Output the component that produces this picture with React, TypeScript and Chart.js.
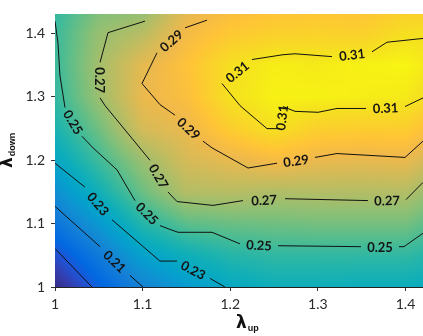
import React, { useEffect, useRef } from 'react';
import { Chart, registerables } from 'chart.js';

Chart.register(...registerables);

// ---- grid of the surface (λup columns, λdown rows) ----
const lambdaUpGrid = [1.0, 1.05, 1.1, 1.15, 1.2, 1.25, 1.3, 1.35, 1.4, 1.45];
const lambdaDownGrid = [1.0, 1.05, 1.1, 1.15, 1.2, 1.25, 1.3, 1.35, 1.4, 1.45];
const zDown100 = [0.175, 0.193, 0.21, 0.222, 0.231, 0.236, 0.236, 0.235, 0.235, 0.232];
const zDown105 = [0.187, 0.205, 0.226, 0.236, 0.243, 0.246, 0.246, 0.246, 0.246, 0.24];
const zDown110 = [0.202, 0.221, 0.243, 0.255, 0.258, 0.259, 0.26, 0.26, 0.26, 0.25];
const zDown115 = [0.216, 0.237, 0.258, 0.274, 0.275, 0.273, 0.274, 0.274, 0.274, 0.262];
const zDown120 = [0.23, 0.249, 0.268, 0.283, 0.288, 0.293, 0.289, 0.288, 0.289, 0.276];
const zDown125 = [0.24, 0.259, 0.283, 0.289, 0.302, 0.31, 0.303, 0.302, 0.302, 0.29];
const zDown130 = [0.246, 0.268, 0.289, 0.295, 0.31, 0.315, 0.315, 0.314, 0.313, 0.303];
const zDown135 = [0.248, 0.27, 0.287, 0.297, 0.309, 0.314, 0.313, 0.315, 0.316, 0.31];
const zDown140 = [0.248, 0.267, 0.275, 0.292, 0.3, 0.303, 0.304, 0.303, 0.309, 0.31];
const zDown145 = [0.245, 0.26, 0.262, 0.285, 0.292, 0.295, 0.296, 0.296, 0.3, 0.3];
const zGrid = [zDown100, zDown105, zDown110, zDown115, zDown120, zDown125, zDown130, zDown135, zDown140, zDown145];
const colorMin = 0.175;
const colorMax = 0.318;

// ---- axes ----
const xTicks = [1, 1.1, 1.2, 1.3, 1.4];
const xTickLabels = ['1', '1.1', '1.2', '1.3', '1.4'];
const yTicks = [1, 1.1, 1.2, 1.3, 1.4];
const yTickLabels = ['1', '1.1', '1.2', '1.3', '1.4'];
const xRange = [1, 1.42];
const yRange = [1, 1.43];

// ---- contour lines: segments between inline labels, points [λup, λdown] ----
const contour019 = [[[1.0, 1.0606], [1.0422, 1.0]]];
const contour021 = [
  [[1.0, 1.1272], [1.0514, 1.0636]],
  [[1.0856, 1.0182], [1.1004, 1.0]],
];
const contour023 = [
  [[1.0, 1.1953], [1.0342, 1.1575]],
  [[1.0651, 1.106], [1.1198, 1.0409], [1.1392, 1.0409]],
  [[1.1769, 1.0136], [1.194, 1.0]],
];
const contour025 = [
  [[1.0, 1.4194], [1.0034, 1.3846], [1.0057, 1.3331], [1.0114, 1.2831]],
  [[1.0308, 1.2377], [1.0434, 1.2195], [1.0708, 1.1847], [1.0913, 1.1363]],
  [[1.1198, 1.0969], [1.1313, 1.0908], [1.1404, 1.0863], [1.1792, 1.0863], [1.2111, 1.0681]],
  [[1.2545, 1.0651], [1.3492, 1.0636]],
  [[1.3926, 1.0636], [1.3983, 1.0636], [1.42, 1.0848]],
];
const contour027 = [
  [[1.1027, 1.4194], [1.0605, 1.4012], [1.0514, 1.3543]],
  [[1.0514, 1.2983], [1.0571, 1.2862], [1.1084, 1.1999]],
  [[1.129, 1.1499], [1.1392, 1.1348], [1.1803, 1.1287], [1.2146, 1.1363]],
  [[1.2625, 1.1393], [1.3572, 1.1363]],
  [[1.4006, 1.1378], [1.42, 1.165]],
];
const contour029 = [
  [[1.1735, 1.4209], [1.1484, 1.4088]],
  [[1.1164, 1.3694], [1.0993, 1.321], [1.1198, 1.2877], [1.137, 1.271]],
  [[1.1689, 1.2301], [1.1792, 1.2195], [1.2203, 1.1877], [1.2534, 1.1953]],
  [[1.2967, 1.2044], [1.3218, 1.2105], [1.3995, 1.2044], [1.42, 1.2301]],
];
const contour031 = [
  [[1.42, 1.3921], [1.3789, 1.3861], [1.3618, 1.371]],
  [[1.3161, 1.3634], [1.2739, 1.3679], [1.2602, 1.3664], [1.2248, 1.3588]],
  [[1.1906, 1.321], [1.2111, 1.2862], [1.2226, 1.2725], [1.242, 1.2498], [1.2568, 1.2498]],
  [[1.2602, 1.2846], [1.2739, 1.2771], [1.3002, 1.2756], [1.3218, 1.2816], [1.355, 1.2816]],
  [[1.3995, 1.2846], [1.42, 1.2983]],
];
const contourLevels = [0.19, 0.21, 0.23, 0.25, 0.27, 0.29, 0.31];
const contourLines = [contour019, contour021, contour023, contour025, contour027, contour029, contour031];

// parula colormap stops
const PARULA = [
  [0.2081, 0.1663, 0.5292], [0.2081, 0.2386, 0.6771], [0.1253, 0.3242, 0.8303], [0.006, 0.4086, 0.8828],
  [0.0498, 0.4586, 0.8641], [0.0779, 0.504, 0.8384], [0.0641, 0.557, 0.824], [0.0265, 0.6137, 0.8135],
  [0.0228, 0.6535, 0.7768], [0.059, 0.6838, 0.7254], [0.1453, 0.7098, 0.6646], [0.2586, 0.7317, 0.5954],
  [0.3953, 0.7459, 0.5244], [0.53, 0.7491, 0.4661], [0.6473, 0.7456, 0.4188], [0.7525, 0.7384, 0.3768],
  [0.8507, 0.7299, 0.336], [0.945, 0.7261, 0.2886], [0.999, 0.7653, 0.2164], [0.9789, 0.8271, 0.1633],
  [0.9589, 0.8949, 0.1132], [0.9763, 0.9831, 0.0538],
];

function colorFor(z: number): number[] {
  let t = (z - colorMin) / (colorMax - colorMin);
  t = Math.max(0, Math.min(1, t));
  const p = t * (PARULA.length - 1);
  const i = Math.min(Math.floor(p), PARULA.length - 2);
  const f = p - i;
  const a = PARULA[i], b = PARULA[i + 1];
  return [0, 1, 2].map((k) => Math.round(255 * (a[k] + (b[k] - a[k]) * f)));
}

function locate(grid: number[], v: number): [number, number] {
  if (v <= grid[0]) return [0, 0];
  const n = grid.length;
  if (v >= grid[n - 1]) return [n - 2, 1];
  for (let i = 0; i < n - 1; i++) {
    if (v <= grid[i + 1]) return [i, (v - grid[i]) / (grid[i + 1] - grid[i])];
  }
  return [n - 2, 1];
}

function sampleZ(xv: number, yv: number): number {
  const [i, fx] = locate(lambdaUpGrid, xv);
  const [j, fy] = locate(lambdaDownGrid, yv);
  const z00 = zGrid[j][i], z10 = zGrid[j][i + 1], z01 = zGrid[j + 1][i], z11 = zGrid[j + 1][i + 1];
  return z00 * (1 - fx) * (1 - fy) + z10 * fx * (1 - fy) + z01 * (1 - fx) * fy + z11 * fx * fy;
}

const heatmapPlugin = {
  id: 'heatmap',
  beforeDatasetsDraw(chart: any) {
    const { ctx, chartArea: a, scales } = chart;
    const xs = scales.x, ys = scales.y;
    const left = Math.round(a.left), top = Math.round(a.top);
    const w = Math.round(a.right) - left, h = Math.round(a.bottom) - top;
    const off = document.createElement('canvas');
    off.width = w; off.height = h;
    const octx = off.getContext('2d')!;
    const img = octx.createImageData(w, h);
    for (let j = 0; j < h; j++) {
      const yv = ys.getValueForPixel(top + j + 0.5);
      for (let i = 0; i < w; i++) {
        const xv = xs.getValueForPixel(left + i + 0.5);
        const c = colorFor(sampleZ(xv, yv));
        const k = (j * w + i) * 4;
        img.data[k] = c[0]; img.data[k + 1] = c[1]; img.data[k + 2] = c[2]; img.data[k + 3] = 255;
      }
    }
    octx.putImageData(img, 0, 0);
    ctx.drawImage(off, left, top);
  },
};

const labelPlugin = {
  id: 'contourLabels',
  afterDatasetsDraw(chart: any) {
    const { ctx, scales } = chart;
    const xs = scales.x, ys = scales.y;
    ctx.save();
    ctx.font = 'bold 13px Lato, "DejaVu Sans", sans-serif';
    ctx.fillStyle = '#141414';
    ctx.textAlign = 'center';
    ctx.textBaseline = 'middle';
    contourLines.forEach((segs, li) => {
      for (let s = 0; s < segs.length - 1; s++) {
        const p = segs[s][segs[s].length - 1];
        const q = segs[s + 1][0];
        const x1 = xs.getPixelForValue(p[0]), y1 = ys.getPixelForValue(p[1]);
        const x2 = xs.getPixelForValue(q[0]), y2 = ys.getPixelForValue(q[1]);
        let ang = Math.atan2(y2 - y1, x2 - x1);
        if (ang > Math.PI / 2 + 1e-6) ang -= Math.PI;
        if (ang < -Math.PI / 2 - 1e-6) ang += Math.PI;
        ctx.save();
        ctx.translate((x1 + x2) / 2, (y1 + y2) / 2);
        ctx.rotate(ang);
        ctx.fillText(contourLevels[li].toFixed(2), 0, 1);
        ctx.restore();
      }
    });
    ctx.restore();
  },
};

const titlePlugin = {
  id: 'axisTitles',
  afterDraw(chart: any) {
    const { ctx } = chart;
    ctx.save();
    ctx.fillStyle = '#111';
    ctx.textBaseline = 'alphabetic';
    ctx.textAlign = 'left';
    // x title
    ctx.font = 'bold 17px "DejaVu Sans"';
    const lw = ctx.measureText('λ').width;
    ctx.fillText('λ', 236, 328);
    ctx.font = 'bold 9px "Liberation Sans"';
    ctx.fillText('up', 236 + lw + 1, 331);
    // y title
    ctx.translate(12, 168);
    ctx.rotate(-Math.PI / 2);
    ctx.font = 'bold 17px "DejaVu Sans"';
    ctx.fillText('λ', 0, 0);
    ctx.font = 'bold 9px "Liberation Sans"';
    ctx.fillText('down', lw + 1, 3);
    ctx.restore();
  },
};

export default function App() {
  const ref = useRef<HTMLCanvasElement | null>(null);
  useEffect(() => {
    if (!ref.current) return;
    const datasets = contourLines.map((segs, li) => {
      const data: any[] = [];
      segs.forEach((seg, si) => {
        if (si > 0) data.push({ x: null, y: null });
        seg.forEach((pt) => data.push({ x: pt[0], y: pt[1] }));
      });
      return {
        label: contourLevels[li].toFixed(2),
        data,
        showLine: true,
        spanGaps: false,
        borderColor: '#111',
        borderWidth: 1,
        pointRadius: 0,
        tension: 0,
        fill: false,
      };
    });
    const tickFont = { family: 'Lato, "DejaVu Sans", sans-serif', size: 14 };
    const chart = new Chart(ref.current, {
      type: 'scatter',
      data: { datasets },
      options: {
        animation: false,
        responsive: false,
        maintainAspectRatio: false,
        layout: { padding: { top: 3, right: 0, left: 0, bottom: 0 } },
        plugins: { legend: { display: false }, tooltip: { enabled: false } },
        scales: {
          x: {
            type: 'linear',
            min: xRange[0],
            max: xRange[1],
            afterBuildTicks: (s: any) => { s.ticks = xTicks.map((v) => ({ value: v })); },
            afterFit: (s: any) => { s.height = 49; },
            ticks: {
              autoSkip: false,
              maxRotation: 0,
              padding: 5,
              color: '#2a2a2a',
              font: tickFont,
              callback: (_v: any, i: number) => xTickLabels[i],
            },
            grid: { drawOnChartArea: false, drawTicks: true, tickLength: 4, color: '#333' },
            border: { display: true, color: '#222', width: 1 },
          },
          y: {
            type: 'linear',
            min: yRange[0],
            max: yRange[1],
            afterBuildTicks: (s: any) => { s.ticks = yTicks.map((v) => ({ value: v })); },
            afterFit: (s: any) => { s.width = 55; },
            ticks: {
              autoSkip: false,
              padding: 6,
              color: '#2a2a2a',
              font: tickFont,
              callback: (_v: any, i: number) => yTickLabels[i],
            },
            grid: { drawOnChartArea: false, drawTicks: true, tickLength: 4, color: '#333' },
            border: { display: true, color: '#222', width: 1 },
          },
        },
      } as any,
      plugins: [heatmapPlugin, labelPlugin, titlePlugin],
    });
    return () => chart.destroy();
  }, []);
  return (
    <div style={{ position: 'fixed', left: 0, top: 0, width: 423, height: 336, background: '#fff' }}>
      <canvas ref={ref} width={423} height={336} style={{ width: 423, height: 336, display: 'block' }} />
    </div>
  );
}
